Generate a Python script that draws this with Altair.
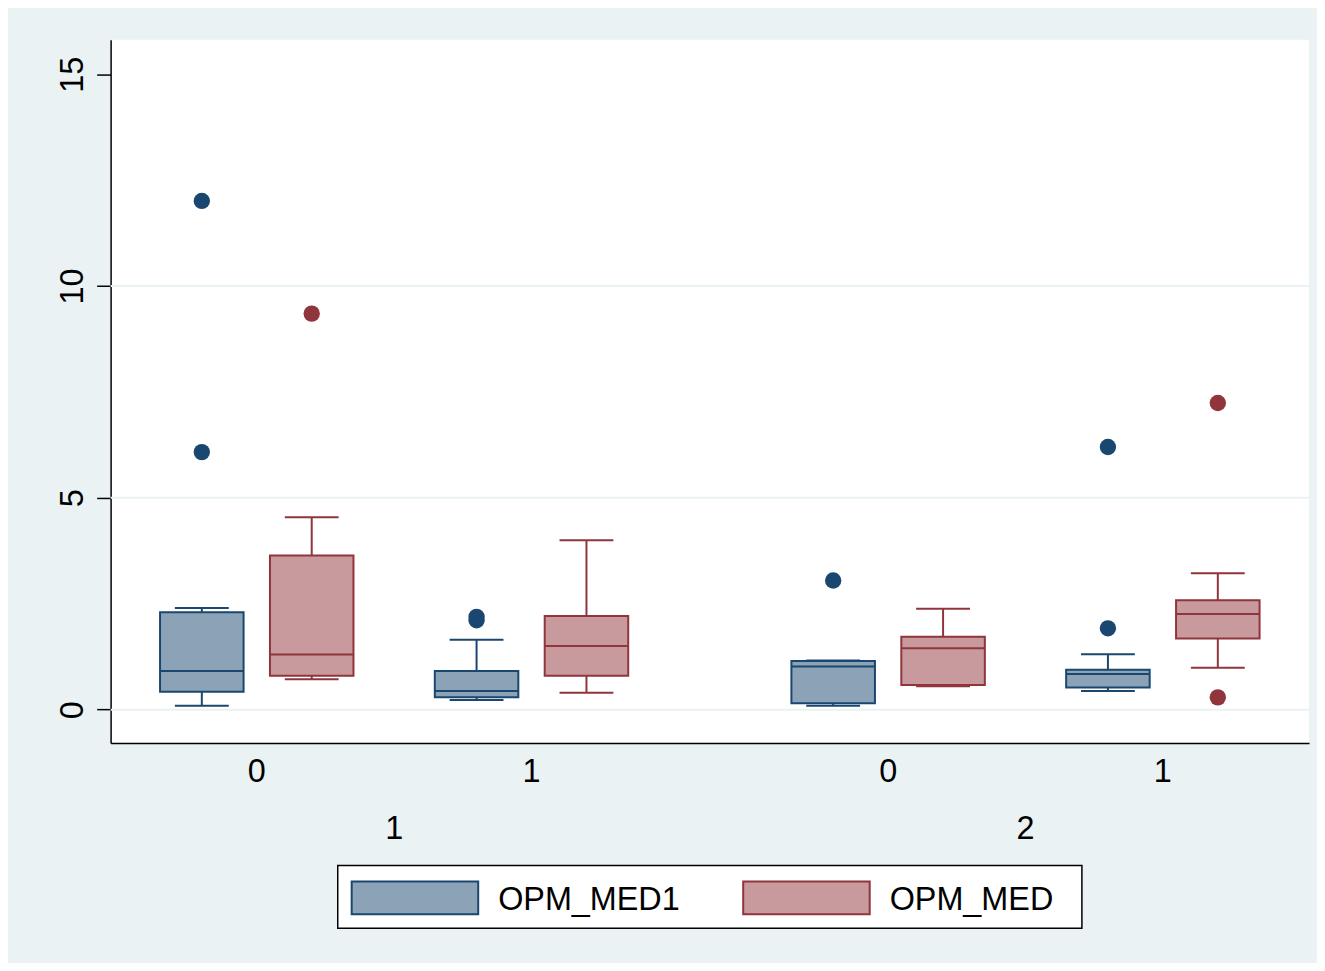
import altair as alt
import pandas as pd

# ---------------- data ----------------
groups = ["1", "2"]
categories = ["0", "1"]
series = ["OPM_MED1", "OPM_MED"]

# order of boxes within each series: (g1,c0), (g1,c1), (g2,c0), (g2,c1)
med1_lo = [0.09, 0.23, 0.09, 0.44]
med1_q1 = [0.42, 0.29, 0.15, 0.52]
med1_median = [0.91, 0.44, 1.02, 0.84]
med1_q3 = [2.30, 0.91, 1.15, 0.94]
med1_hi = [2.40, 1.65, 1.16, 1.31]
med1_outliers = [[12.01, 6.08], [2.11, 2.19], [3.05], [6.20, 1.92]]

med_lo = [0.72, 0.40, 0.55, 0.99]
med_q1 = [0.80, 0.80, 0.58, 1.68]
med_median = [1.30, 1.50, 1.45, 2.26]
med_q3 = [3.64, 2.21, 1.72, 2.58]
med_hi = [4.54, 4.00, 2.38, 3.22]
med_outliers = [[9.35], [], [], [7.24, 0.29]]

grid_values = [0, 5, 10]
y_ticks = [0, 5, 10, 15]

# ---------------- layout constants ----------------
W, H = 1203, 706
FONT = "Liberation Sans"
FS = 32.5
NAVY, MAROON = "#1A476F", "#90353B"
NAVY_FILL, MAROON_FILL = "#8CA3B7", "#C89A9D"
BG = "#EAF2F3"

X_DOMAIN = [0, 4.362]
FIRST = 0.532
GROUP_STEP = 2.298
SERIES_OFF = 0.2
BOX_HALF = 0.152
CAP_HALF = 0.098

stats = {
    "OPM_MED1": (med1_lo, med1_q1, med1_median, med1_q3, med1_hi, med1_outliers),
    "OPM_MED": (med_lo, med_q1, med_median, med_q3, med_hi, med_outliers),
}

box_rows, out_rows, cat_rows, grp_rows = [], [], [], []
for gi, g in enumerate(groups):
    for ci, c in enumerate(categories):
        k = gi * len(categories) + ci
        center = FIRST + gi * GROUP_STEP + ci
        cat_rows.append({"label": c, "pos": center})
        for si, s in enumerate(series):
            lo, q1, md, q3, hi, outs = stats[s]
            p = center + (-SERIES_OFF if si == 0 else SERIES_OFF)
            box_rows.append({
                "series": s, "pos": p,
                "bl": p - BOX_HALF, "br": p + BOX_HALF,
                "cl": p - CAP_HALF, "cr": p + CAP_HALF,
                "lo": lo[k], "q1": q1[k], "median": md[k], "q3": q3[k], "hi": hi[k],
            })
            for v in outs[k]:
                out_rows.append({"series": s, "pos": p, "value": v})
    grp_rows.append({"label": g, "pos": FIRST + gi * GROUP_STEP + 0.5})

boxes = pd.DataFrame(box_rows)
outliers = pd.DataFrame(out_rows)
cats = pd.DataFrame(cat_rows)
grps = pd.DataFrame(grp_rows)
grid = pd.DataFrame({"v": grid_values})

xscale = alt.Scale(domain=X_DOMAIN, nice=False, zero=False)
yscale = alt.Scale(domain=[-0.788, 15.816], nice=False, zero=False)
stroke_scale = alt.Scale(domain=series, range=[NAVY, MAROON])
fill_scale = alt.Scale(domain=series, range=[NAVY_FILL, MAROON_FILL])

x_axis = alt.Axis(labels=False, ticks=False, grid=False, domain=True,
                  domainColor="black", domainWidth=1.5, title=None)
y_axis = alt.Axis(values=y_ticks, grid=False, title=None, labelAngle=270,
                  labelAlign="center", labelBaseline="alphabetic",
                  labelPadding=14, tickSize=14, tickWidth=1.5, tickColor="black",
                  domainColor="black", domainWidth=1.5, labelFont=FONT,
                  labelFontSize=FS, labelColor="black")

gridlayer = alt.Chart(grid).mark_rule(color=BG, strokeWidth=2).encode(
    x=alt.value(0), x2=alt.value(W),
    y=alt.Y("v:Q", scale=yscale, axis=y_axis),
)

base = alt.Chart(boxes)
whisk = base.mark_rule(strokeWidth=2).encode(
    x=alt.X("pos:Q", scale=xscale, axis=x_axis),
    y=alt.Y("lo:Q", scale=yscale), y2="hi:Q",
    stroke=alt.Stroke("series:N", scale=stroke_scale, legend=None),
)
cap_lo = base.mark_rule(strokeWidth=2).encode(
    x=alt.X("cl:Q", scale=xscale), x2="cr:Q",
    y=alt.Y("lo:Q", scale=yscale),
    stroke=alt.Stroke("series:N", scale=stroke_scale, legend=None),
)
cap_hi = base.mark_rule(strokeWidth=2).encode(
    x=alt.X("cl:Q", scale=xscale), x2="cr:Q",
    y=alt.Y("hi:Q", scale=yscale),
    stroke=alt.Stroke("series:N", scale=stroke_scale, legend=None),
)
box = base.mark_rect(strokeWidth=2).encode(
    x=alt.X("bl:Q", scale=xscale), x2="br:Q",
    y=alt.Y("q1:Q", scale=yscale), y2="q3:Q",
    fill=alt.Fill("series:N", scale=fill_scale, legend=None),
    stroke=alt.Stroke("series:N", scale=stroke_scale, legend=None),
)
med = base.mark_rule(strokeWidth=2).encode(
    x=alt.X("bl:Q", scale=xscale), x2="br:Q",
    y=alt.Y("median:Q", scale=yscale),
    stroke=alt.Stroke("series:N", scale=stroke_scale, legend=None),
)
dots = alt.Chart(outliers).mark_circle(size=270, opacity=1).encode(
    x=alt.X("pos:Q", scale=xscale),
    y=alt.Y("value:Q", scale=yscale),
    color=alt.Color("series:N", scale=stroke_scale, legend=None),
)

cat_text = alt.Chart(cats).mark_text(font=FONT, fontSize=FS, color="black",
                                     baseline="alphabetic", align="center").encode(
    x=alt.X("pos:Q", scale=xscale), y=alt.value(H + 39), text="label:N")
grp_text = alt.Chart(grps).mark_text(font=FONT, fontSize=FS, color="black",
                                     baseline="alphabetic", align="center").encode(
    x=alt.X("pos:Q", scale=xscale), y=alt.value(H + 96), text="label:N")

# ---------------- legend (drawn by hand, Stata style) ----------------
leg_df = pd.DataFrame({"series": series})
legend_box = alt.Chart(leg_df.head(1)).mark_rect(fill="white", stroke="black", strokeWidth=1.5).encode(
    x=alt.value(228), x2=alt.value(975), y=alt.value(829), y2=alt.value(892))
sym_x = [242, 635]
txt_x = [389, 782]
fills = [NAVY_FILL, MAROON_FILL]
strokes = [NAVY, MAROON]
legend_layers = [legend_box]
for i, s in enumerate(series):
    d = leg_df.iloc[[i]]
    legend_layers.append(alt.Chart(d).mark_rect(fill=fills[i], stroke=strokes[i], strokeWidth=2).encode(
        x=alt.value(sym_x[i]), x2=alt.value(sym_x[i] + 127), y=alt.value(845), y2=alt.value(878)))
    legend_layers.append(alt.Chart(d).mark_text(font=FONT, fontSize=FS, color="black",
                                                align="left", baseline="alphabetic").encode(
        x=alt.value(txt_x[i]), y=alt.value(874), text="series:N"))

chart = alt.layer(gridlayer, whisk, cap_lo, cap_hi, box, med, dots, cat_text, grp_text,
                  *legend_layers).properties(
    width=W, height=H,
    autosize=alt.AutoSizeParams(type="none"),
    padding={"left": 103, "top": 30, "right": 8, "bottom": 219},
    background=BG,
).configure_view(fill="white", stroke=None)

chart.save("out.html", embed_options={"renderer": "svg", "actions": False})
